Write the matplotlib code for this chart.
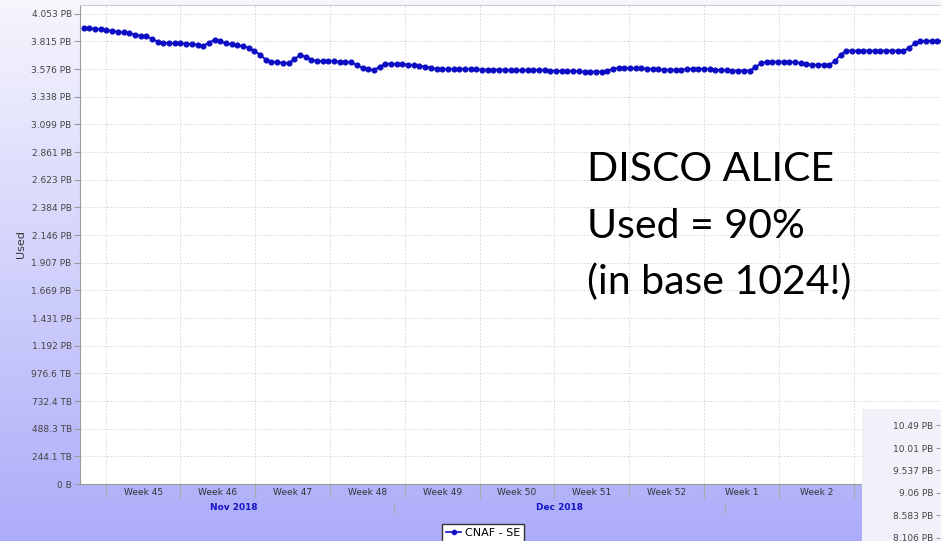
import numpy as np, matplotlib
matplotlib.use('Agg')
import matplotlib.pyplot as plt
from matplotlib.lines import Line2D

W, H = 941, 541
BLUE = '#0c0cc4'

# used space on CNAF - SE (PB, base 1024), one sample every ~12.8 h, from Fri 2 Nov 2018
used = [3.927, 3.927, 3.924, 3.921, 3.912, 3.904, 3.898, 3.892, 3.886, 3.872, 3.864, 3.858, 3.838, 3.812,
        3.803, 3.801, 3.798, 3.798, 3.795, 3.792, 3.786, 3.778, 3.803, 3.829, 3.815, 3.798, 3.789, 3.781,
        3.775, 3.758, 3.732, 3.700, 3.657, 3.640, 3.634, 3.631, 3.628, 3.660, 3.697, 3.683, 3.657, 3.646,
        3.646, 3.646, 3.643, 3.640, 3.637, 3.634, 3.611, 3.585, 3.574, 3.568, 3.597, 3.620, 3.620, 3.620,
        3.617, 3.614, 3.611, 3.603, 3.597, 3.588, 3.577, 3.574, 3.574, 3.574, 3.577, 3.577, 3.574, 3.574,
        3.571, 3.571, 3.571, 3.571, 3.571, 3.568, 3.568, 3.565, 3.565, 3.568, 3.571, 3.568, 3.562,
        3.560, 3.560, 3.560, 3.557, 3.557, 3.554, 3.554, 3.554, 3.554, 3.562, 3.580, 3.585, 3.585, 3.583,
        3.583, 3.583, 3.580, 3.577, 3.574, 3.571, 3.571, 3.571, 3.571, 3.574, 3.580, 3.580, 3.577, 3.574,
        3.571, 3.568, 3.565, 3.563, 3.563, 3.563,
        3.563, 3.591, 3.626, 3.640, 3.640, 3.640, 3.640, 3.640, 3.634, 3.626, 3.620, 3.614, 3.614, 3.614,
        3.614, 3.643, 3.700, 3.735, 3.735, 3.735, 3.735, 3.735, 3.735, 3.735, 3.735, 3.735, 3.735, 3.735,
        3.755, 3.798, 3.818, 3.818, 3.818, 3.818, 3.818]
t0, dt = -2.06, 0.5326          # days relative to Sun 4 Nov 2018
days = t0 + dt * np.arange(len(used))

ytick_labels = ['0 B', '244.1 TB', '488.3 TB', '732.4 TB', '976.6 TB', '1.192 PB', '1.431 PB', '1.669 PB',
                '1.907 PB', '2.146 PB', '2.384 PB', '2.623 PB', '2.861 PB', '3.099 PB', '3.338 PB',
                '3.576 PB', '3.815 PB', '4.053 PB']
week_edges = [0, 7, 14, 21, 28, 35, 42, 49, 56, 63, 70]
week_labels = ['Week 45', 'Week 46', 'Week 47', 'Week 48', 'Week 49', 'Week 50', 'Week 51', 'Week 52',
               'Week 1', 'Week 2']
month_edges = [27, 58]
month_centers = [12.0, 42.5]
month_labels = ['Nov 2018', 'Dec 2018']
inset_ticks = [8.106, 8.583, 9.06, 9.537, 10.01, 10.49]
inset_labels = ['8.106 PB', '8.583 PB', '9.06 PB', '9.537 PB', '10.01 PB', '10.49 PB']
note_lines = ['DISCO ALICE', 'Used = 90%', '(in base 1024!)']

fig = plt.figure(figsize=(W/100, H/100), dpi=100)

# lavender gradient background
g = np.linspace(0, 1, H)[:, None, None]
top, bot = np.array([246, 246, 253]) / 255, np.array([172, 172, 250]) / 255
bg = fig.add_axes([0, 0, 1, 1], zorder=0)
bg.imshow(top * (1 - g) + bot * g, aspect='auto', extent=[0, 1, 0, 1]); bg.axis('off')

# main chart
ax = fig.add_axes([80/W, 57/H, 900/W, 479/H], zorder=1)
ax.set_facecolor('white')
ax.plot(days, used, '-o', color=BLUE, lw=1.3, ms=3.4, zorder=3)
ax.set_xlim(-2.405, 81.82)
ax.set_ylim(0, 4.053 * 479 / 470.3)
ax.set_yticks(np.linspace(0, 4.053, 18), ytick_labels)
ax.tick_params(axis='y', direction='out', length=4, color='#999', labelsize=6.5, labelcolor='#444', pad=2)
ax.set_ylabel('Used', fontsize=8, color='#333')
ax.yaxis.set_label_coords(-0.06, 0.5)
ax.set_xticks(week_edges, [''] * len(week_edges))
ax.set_xticks([e + 3.5 for e in week_edges[:-1]], week_labels, minor=True)
ax.tick_params(axis='x', which='major', direction='out', length=10, color='#aaa')
ax.tick_params(axis='x', which='minor', length=0, labelsize=6.5, labelcolor='#333', pad=3)
ax.grid(True, which='major', color='#d4d4d4', ls=(0, (2, 2)), lw=0.6)
for s in ['left', 'bottom']: ax.spines[s].set_color('#9a9a9a')
ax.spines['top'].set_color('#d0d0d0'); ax.spines['right'].set_visible(False)

sec = ax.secondary_xaxis((484 - 502) / 479)
sec.spines['bottom'].set_visible(False)
sec.set_xticks(month_edges, [''] * len(month_edges))
sec.set_xticks(month_centers, month_labels, minor=True)
sec.tick_params(which='major', direction='out', length=8, color='#aaa')
sec.tick_params(which='minor', length=0, labelsize=6.5, labelcolor='#1414c4', pad=1)
for lb in sec.get_xticklabels(minor=True): lb.set_fontweight('bold')

fig.legend(handles=[Line2D([], [], color=BLUE, marker='o', ms=3, lw=1.2, label='CNAF - SE')],
           loc='lower center', bbox_to_anchor=(483/W, -0.012), fontsize=8, fancybox=False,
           edgecolor='#333', framealpha=1, handlelength=1.4, handletextpad=0.3, borderpad=0.35)

# piece of the next chart, bottom right
ibg = fig.add_axes([862/W, 0, 79/W, 132/H], zorder=3)
ibg.set_facecolor('#f1f1fa'); ibg.set_xticks([]); ibg.set_yticks([])
for s in ibg.spines.values(): s.set_visible(False)
iax = fig.add_axes([940/W, 0, 0.1, 132/H], zorder=4)
iax.patch.set_alpha(0)
iax.set_ylim(8.04, 10.837)
iax.set_yticks(inset_ticks, inset_labels)
iax.set_xticks([])
iax.tick_params(axis='y', direction='out', length=3, color='#999', labelsize=6.5, labelcolor='#444', pad=2)
for s in iax.spines.values(): s.set_visible(False)

for txt, yb in zip(note_lines, [181, 238, 294]):
    fig.text(587/W, 1 - yb/H, txt, fontsize=29.5, family='Lato', color='black', va='baseline', ha='left')

fig.savefig('out.png', dpi=100)
